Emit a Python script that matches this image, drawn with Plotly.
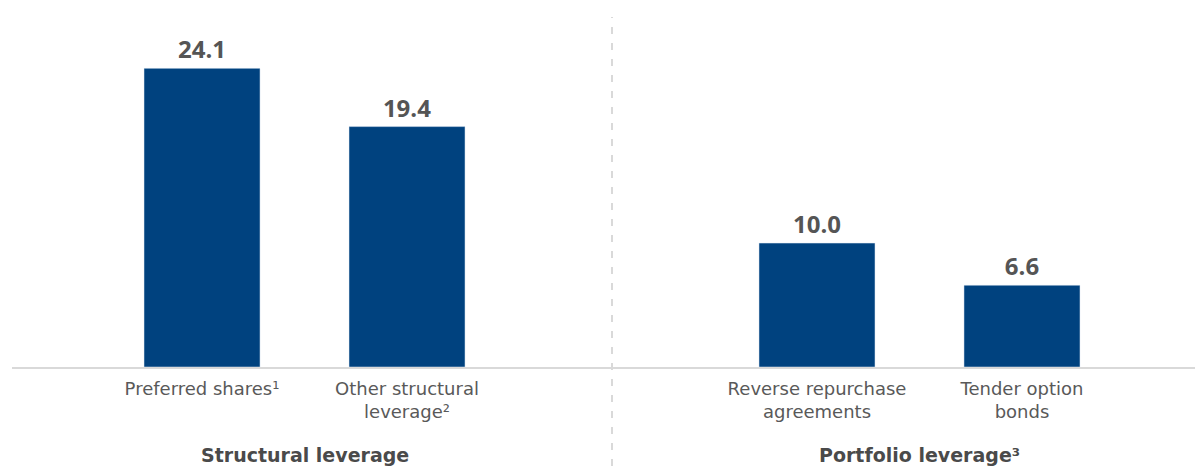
import plotly.graph_objects as go

groups = ["Structural leverage", "Portfolio leverage³"]
categories = [["Preferred shares¹", "Other structural<br>leverage²"],
              ["Reverse repurchase<br>agreements", "Tender option<br>bonds"]]
values = [[24.1, 19.4], [10.0, 6.6]]
value_labels = [["24.1", "19.4"], ["10.0", "6.6"]]

BAR = "#00427F"

xs, ys, txt, ticks, tickt = [], [], [], [], []
group_centers = []
for gi, (cats, vals, labs) in enumerate(zip(categories, values, value_labels)):
    pos = [gi * 3 + i for i in range(len(cats))]
    group_centers.append(sum(pos) / len(pos))
    xs += pos
    ys += vals
    txt += labs
    ticks += pos
    tickt += cats

fig = go.Figure(go.Bar(
    x=xs, y=ys, text=txt, textposition="outside",
    marker_color=BAR, width=0.566, cliponaxis=False,
    textfont=dict(family="Open Sans", size=24, color="#555555", weight="bold"),
))

fig.update_layout(
    width=1195, height=458,
    margin=dict(l=4, r=0, t=12, b=99),
    plot_bgcolor="white", paper_bgcolor="white",
    showlegend=False,
    font=dict(family="DejaVu Sans"),
    xaxis=dict(range=[-0.927, 4.883], tickvals=ticks, ticktext=tickt,
               showgrid=False, zeroline=False, showline=True,
               linecolor="#d9d9d9", linewidth=2, ticks="",
               ticklabelstandoff=4,
               tickfont=dict(family="DejaVu Sans", size=18, color="#595959")),
    yaxis=dict(range=[0, 28], visible=False),
)

fig.add_shape(type="line", xref="x", yref="paper",
              x0=(group_centers[0] + group_centers[1]) / 2,
              x1=(group_centers[0] + group_centers[1]) / 2,
              y0=-0.285, y1=1.0086,
              line=dict(color="#d9d9d9", width=2, dash="7px,9px"))

for gc, g in zip(group_centers, groups):
    fig.add_annotation(x=gc, xref="x", y=0, yref="paper", yanchor="middle",
                       yshift=-88, text=f"<b>{g}</b>", showarrow=False,
                       font=dict(family="DejaVu Sans", size=19, color="#4a4a4a"))

fig.write_html("out.html")
